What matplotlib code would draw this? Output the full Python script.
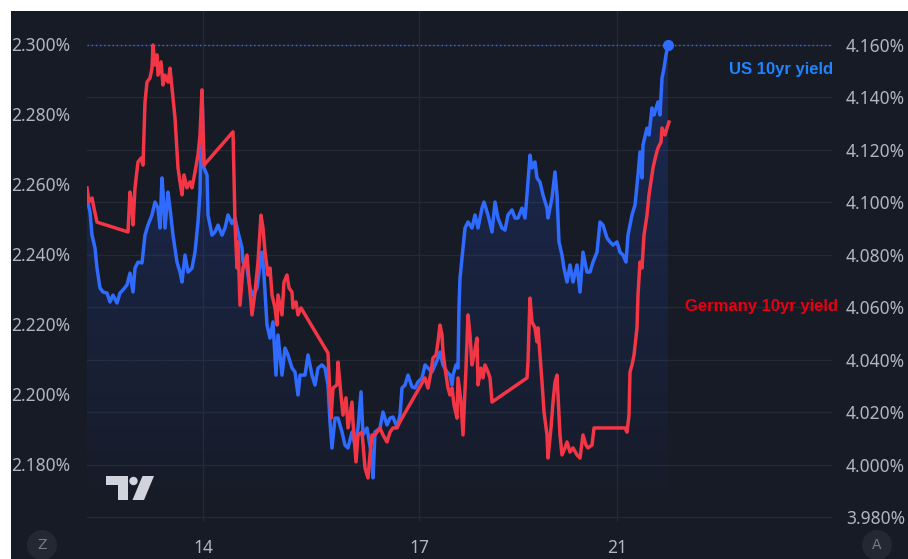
import matplotlib
matplotlib.use("Agg")
import matplotlib.pyplot as plt
import numpy as np
from matplotlib.patches import Rectangle, Circle, Polygon
from matplotlib.ticker import MultipleLocator, FuncFormatter

# ── Data (bar index, yield in %) ─────────────────────────────────────────────
us_t = [0, 3, 5, 8, 10, 13, 16, 20, 23, 26, 30, 33, 36, 40, 43, 46, 48, 51, 55, 58,
        61, 65, 68, 71, 73, 75, 76, 78, 81, 83, 86, 90, 93, 95, 98, 101, 105, 108, 111, 113,
        115, 116, 117, 120, 121, 125, 128, 131, 135, 138, 141, 145, 148, 151, 155, 156, 160, 163, 166, 170,
        173, 175, 177, 180, 183, 186, 189, 191, 195, 198, 201, 205, 208, 211, 213, 218, 221, 225, 228, 231,
        235, 238, 241, 243, 245, 248, 251, 255, 258, 261, 265, 268, 271, 274, 276, 280, 284, 286, 288, 293,
        296, 300, 303, 306, 310, 313, 315, 318, 321, 325, 328, 331, 335, 338, 341, 345, 348, 351, 353, 356,
        360, 363, 365, 366, 369, 371, 372, 373, 375, 376, 378, 381, 385, 388, 391, 395, 397, 401, 405, 408,
        411, 415, 418, 421, 425, 428, 431, 435, 438, 440, 443, 445, 448, 450, 453, 456, 460, 461, 465, 468,
        470, 472, 475, 477, 480, 483, 486, 490, 493, 496, 500, 503, 506, 510, 513, 516, 520, 523, 526, 530,
        533, 536, 539, 541, 545, 548, 551, 553, 555, 556, 560, 562, 565, 567, 571, 573, 575, 577, 579, 581]
us_val = [4.1017, 4.0963, 4.0875, 4.0826, 4.0749, 4.0673, 4.0658, 4.0654, 4.0620, 4.0646,
          4.0616, 4.0654, 4.0666, 4.0685, 4.0730, 4.0658, 4.0749, 4.0772, 4.0769, 4.0875,
          4.0913, 4.0952, 4.1001, 4.0978, 4.0902, 4.1093, 4.1039, 4.0902, 4.1039, 4.0978,
          4.0875, 4.0772, 4.0734, 4.0696, 4.0799, 4.0734, 4.0749, 4.0810, 4.0925, 4.1039,
          4.1421, 4.1257, 4.1131, 4.1104, 4.0952, 4.0875, 4.0887, 4.0913, 4.0875, 4.0902,
          4.0952, 4.0919, 4.0940, 4.0887, 4.0826, 4.0772, 4.0749, 4.0673, 4.0646, 4.0673,
          4.0761, 4.0810, 4.0723, 4.0532, 4.0482, 4.0544, 4.0341, 4.0494, 4.0341, 4.0444,
          4.0418, 4.0368, 4.0353, 4.0265, 4.0341, 4.0341, 4.0418, 4.0341, 4.0303, 4.0368,
          4.0380, 4.0368, 4.0303, 4.0162, 4.0063, 4.0177, 4.0177, 4.0124, 4.0074, 4.0063,
          4.0124, 4.0074, 4.0139, 4.0277, 4.0113, 4.0139, 4.0048, 3.9949, 4.0124, 4.0139,
          4.0200, 4.0151, 4.0177, 4.0181, 4.0143, 4.0189, 4.0292, 4.0303, 4.0341, 4.0296,
          4.0292, 4.0315, 4.0330, 4.0380, 4.0368, 4.0353, 4.0380, 4.0406, 4.0429, 4.0380,
          4.0353, 4.0341, 4.0303, 4.0341, 4.0380, 4.0368, 4.0600, 4.0711, 4.0788, 4.0826,
          4.0902, 4.0925, 4.0902, 4.0952, 4.0902, 4.0978, 4.1001, 4.0952, 4.0887, 4.1001,
          4.0940, 4.0902, 4.0894, 4.0952, 4.0971, 4.0940, 4.0940, 4.0978, 4.0940, 4.1028,
          4.1180, 4.1131, 4.1154, 4.1093, 4.1077, 4.1028, 4.0978, 4.0940, 4.1017, 4.1116,
          4.1028, 4.0849, 4.0799, 4.0749, 4.0696, 4.0761, 4.0696, 4.0761, 4.0658, 4.0810,
          4.0734, 4.0734, 4.0772, 4.0810, 4.0925, 4.0913, 4.0864, 4.0849, 4.0837, 4.0849,
          4.0810, 4.0799, 4.0772, 4.0875, 4.0952, 4.0990, 4.1104, 4.1192, 4.1093, 4.1219,
          4.1283, 4.1257, 4.1360, 4.1333, 4.1383, 4.1333, 4.1474, 4.1512, 4.1562, 4.1600]

de_t = [0, 2, 5, 7, 10, 41, 43, 45, 46, 48, 51, 54, 56, 58, 60, 63, 65, 66, 68, 70,
        71, 74, 76, 78, 81, 83, 85, 88, 91, 93, 95, 97, 100, 103, 105, 108, 111, 113, 115, 117,
        146, 148, 150, 151, 153, 156, 160, 161, 165, 168, 171, 174, 176, 178, 181, 183, 185, 188, 190, 191,
        195, 197, 200, 202, 205, 206, 209, 211, 214, 241, 244, 246, 250, 251, 254, 256, 259, 261, 265, 266,
        269, 271, 275, 278, 281, 283, 285, 288, 293, 296, 300, 303, 306, 310, 313, 338, 341, 344, 346, 349,
        351, 353, 355, 356, 358, 361, 363, 365, 367, 370, 371, 374, 376, 379, 381, 383, 385, 387, 390, 391,
        394, 396, 398, 401, 403, 405, 440, 441, 442, 443, 445, 448, 450, 451, 453, 455, 457, 460, 461, 464,
        466, 468, 470, 471, 473, 475, 478, 480, 483, 486, 490, 493, 496, 499, 501, 505, 507, 538, 540, 542,
        543, 545, 547, 550, 551, 553, 555, 557, 560, 562, 565, 566, 569, 571, 574, 575, 578, 580, 582]
de_val = [2.2589, 2.2549, 2.2560, 2.2531, 2.2491, 2.2463, 2.2577, 2.2540, 2.2483, 2.2589,
          2.2663, 2.2674, 2.2654, 2.2834, 2.2891, 2.2903, 2.2931, 2.2997, 2.2940, 2.2969,
          2.2911, 2.2949, 2.2883, 2.2911, 2.2891, 2.2931, 2.2874, 2.2789, 2.2646, 2.2606,
          2.2569, 2.2626, 2.2589, 2.2606, 2.2589, 2.2634, 2.2683, 2.2740, 2.2869, 2.2654,
          2.2749, 2.2491, 2.2360, 2.2434, 2.2254, 2.2360, 2.2397, 2.2360, 2.2226, 2.2291,
          2.2377, 2.2511, 2.2474, 2.2406, 2.2340, 2.2360, 2.2283, 2.2246, 2.2197, 2.2283,
          2.2226, 2.2320, 2.2340, 2.2303, 2.2291, 2.2246, 2.2263, 2.2226, 2.2246, 2.2117,
          2.1931, 2.2017, 2.2026, 2.2091, 2.1997, 2.1940, 2.1989, 2.1903, 2.1977, 2.1920,
          2.1806, 2.1883, 2.1891, 2.1789, 2.1760, 2.1826, 2.1883, 2.1883, 2.1903, 2.1883,
          2.1863, 2.1891, 2.1903, 2.1903, 2.1921, 2.2046, 2.2017, 2.2063, 2.2103, 2.2111,
          2.2149, 2.2197, 2.2169, 2.2120, 2.2074, 2.2017, 2.1997, 2.2017, 2.1969, 2.1931,
          2.2046, 2.1977, 2.1883, 2.2074, 2.2226, 2.2169, 2.2083, 2.2111, 2.2160, 2.2026,
          2.2074, 2.2046, 2.2083, 2.2063, 2.2046, 2.1977, 2.2046, 2.2091, 2.2189, 2.2274,
          2.2206, 2.2189, 2.2149, 2.2189, 2.2111, 2.2034, 2.1949, 2.1883, 2.1817, 2.1903,
          2.1977, 2.2034, 2.2054, 2.1997, 2.1883, 2.1826, 2.1846, 2.1863, 2.1834, 2.1846,
          2.1826, 2.1817, 2.1883, 2.1854, 2.1846, 2.1854, 2.1903, 2.1903, 2.1891, 2.1940,
          2.2063, 2.2083, 2.2111, 2.2189, 2.2283, 2.2377, 2.2360, 2.2454, 2.2511, 2.2569,
          2.2626, 2.2646, 2.2683, 2.2703, 2.2720, 2.2760, 2.2740, 2.2760, 2.2777]

day_labels = ["14", "17", "21"]
day_pos = [116, 332, 530]

# ── Style ────────────────────────────────────────────────────────────────────
BG = "#171b26"
GRID = "#252935"
TXT = "#b2b5be"
BLUE = "#2f6bff"
RED = "#f23645"
TICK_FONT = "Noto Sans"

W, H = 908, 559
fig = plt.figure(figsize=(W / 100, H / 100), dpi=100, facecolor="white")
inch = fig.dpi_scale_trans
px = lambda x, y: (x / 100, (H - y) / 100)   # pixel (from top-left) -> inches

fig.patches.append(Rectangle(px(11, H), (W - 11) / 100, (H - 11) / 100,
                             transform=inch, facecolor=BG, edgecolor="none", zorder=-10))

left, right, top, bottom = 87, 832, 11, 522
ax = fig.add_axes([left / W, (H - bottom) / H, (right - left) / W, (bottom - top) / H])
ax.set_facecolor(BG)
ax_de = ax.twinx()

# pixel -> value scales
us_ylim = (4.160 - (bottom - 45) / 2622, 4.160 + (45 - top) / 2622)
de_ylim = (2.300 - (bottom - 44) / 3500, 2.300 + (44 - top) / 3500)
xlim = (0, right - left)

# ── US 10yr: gradient area + line (right scale) ─────────────────────────────
ax.set_xlim(*xlim)
ax.set_ylim(*us_ylim)
poly = ax.fill_between(us_t, us_val, us_ylim[0], color="none", lw=0)
rgba = np.zeros((256, 1, 4))
rgba[..., 0], rgba[..., 1], rgba[..., 2] = 41 / 255, 98 / 255, 1.0
rgba[..., 3] = np.linspace(0.22, 0.0, 256).reshape(-1, 1)
im = ax.imshow(rgba, extent=[us_t[0], us_t[-1], us_ylim[0], max(us_val)],
               aspect="auto", origin="upper", zorder=1, interpolation="bilinear")
im.set_clip_path(poly.get_paths()[0], transform=ax.transData)
ax.set_xlim(*xlim)
ax.set_ylim(*us_ylim)
ax.plot(us_t, us_val, color=BLUE, lw=2.5, zorder=3, solid_joinstyle="round")
ax.axhline(us_val[-1], color=BLUE, lw=1, ls=(0, (1, 2)), zorder=2)
ax.plot(us_t[-1], us_val[-1], "o", color=BLUE, ms=7, zorder=4)

ax.yaxis.tick_right()
ax.yaxis.set_major_locator(MultipleLocator(0.02))
ax.yaxis.set_major_formatter(FuncFormatter(lambda v, p: f"{v:.3f}%"))
ax.set_xticks(day_pos)
ax.set_xticklabels(day_labels, fontweight="bold")
ax.grid(True, color=GRID, lw=1)
ax.set_axisbelow(True)
ax.tick_params(axis="y", length=0, pad=10, labelsize=12.5, labelcolor=TXT)
ax.tick_params(axis="x", length=0, pad=12, labelsize=12.5, labelcolor=TXT)
for lab in ax.get_yticklabels() + ax.get_xticklabels():
    lab.set_fontfamily(TICK_FONT)

# ── Germany 10yr: line (left scale) ─────────────────────────────────────────
ax_de.set_ylim(*de_ylim)
ax_de.plot(de_t, de_val, color=RED, lw=2.5, zorder=3, solid_joinstyle="round")
ax_de.yaxis.tick_left()
ax_de.yaxis.set_major_locator(MultipleLocator(0.02))
ax_de.yaxis.set_major_formatter(FuncFormatter(lambda v, p: f"{v:.3f}%"))
ax_de.tick_params(axis="y", length=0, pad=12, labelsize=12.5, labelcolor=TXT)
for lab in ax_de.get_yticklabels():
    lab.set_fontfamily(TICK_FONT)

for a in (ax, ax_de):
    for s in a.spines.values():
        s.set_visible(False)

# Series labels
fig.text(833 / W, 1 - 70 / H, "US 10yr yield", color="#1e84ff", fontsize=12,
         fontweight="bold", family="Liberation Sans", ha="right", va="center")
fig.text(838 / W, 1 - 306 / H, "Germany 10yr yield", color="#e60012", fontsize=12,
         fontweight="bold", family="Liberation Sans", ha="right", va="center")

# TradingView logo and corner buttons
logo = "#d1d4dc"
fig.patches.append(Polygon([px(106, 476), px(128, 476), px(128, 500), px(118, 500),
                            px(118, 485), px(106, 485)], closed=True,
                           transform=inch, facecolor=logo, edgecolor="none"))
fig.patches.append(Circle(px(133.5, 481), 4.2 / 100, transform=inch,
                          facecolor=logo, edgecolor="none"))
fig.patches.append(Polygon([px(142.5, 476), px(154, 476), px(144, 500), px(132.5, 500)],
                           closed=True, transform=inch, facecolor=logo, edgecolor="none"))
for cx, letter in ((42, "Z"), (877, "A")):
    fig.patches.append(Circle(px(cx, 545), 15 / 100, transform=inch,
                              facecolor="#242833", edgecolor="none"))
    fig.text(cx / W, 1 - 545 / H, letter, color="#787b86", fontsize=10,
             ha="center", va="center")

fig.savefig("out.png", dpi=100, facecolor="white")
